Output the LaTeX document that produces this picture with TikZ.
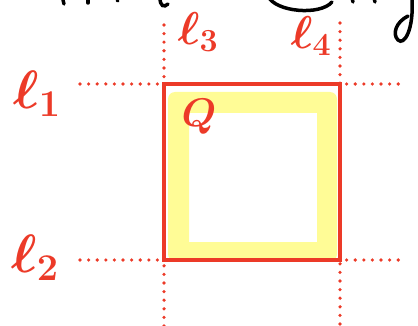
\RequirePackage{fix-cm}
\documentclass[tikz,border=0pt]{standalone}
\definecolor{penred}{RGB}{236,58,40}
\definecolor{hiyellow}{RGB}{255,252,150}
\begin{document}
\begin{tikzpicture}[x=1pt,y=-1pt,
  guide/.style={penred,line width=3.6pt,line cap=round,dash pattern=on 0pt off 8.6pt},
  lbl/.style={penred,inner sep=0pt,font=\fontsize{54}{58}\selectfont\boldmath},
  slbl/.style={penred,inner sep=0pt,font=\fontsize{46}{50}\selectfont\boldmath},
  qlbl/.style={penred,inner sep=0pt,font=\fontsize{40}{44}\selectfont\boldmath},
  ink/.style={black,line width=3.5pt,line cap=round}]
\useasboundingbox (0,0) rectangle (418,326);
% yellow highlighter band
\fill[hiyellow,even odd rule,rounded corners=7pt] (168,92) rectangle (337,261)
  [sharp corners] (189,113) rectangle (317,242);
% guide lines
\coordinate (l1a) at (80,84);  \coordinate (l1b) at (402,84);
\coordinate (l2a) at (80,260); \coordinate (l2b) at (402,260);
\coordinate (l3a) at (164,25); \coordinate (l3b) at (164,326);
\coordinate (l4a) at (340,23); \coordinate (l4b) at (340,326);
\draw[guide] (l1a) -- (l1b);
\draw[guide] (l2a) -- (l2b);
\draw[guide] (l3a) -- (l3b);
\draw[guide] (l4a) -- (l4b);
% square Q
\coordinate (sqa) at (164,84); \coordinate (sqb) at (340,260);
\draw[penred,line width=3.5pt] (sqa) rectangle (sqb);
% labels
\node[lbl] (L1) at (37,94) {$\ell_1$};
\node[lbl] (L2) at (35,258) {$\ell_2$};
\node[slbl] (L3) at (198,32) {$\ell_3$};
\node[slbl] (L4) at (311,36) {$\ell_4$};
\node[qlbl] (Q) at (199,117) {$Q$};
% cut-off black handwriting at the top
\draw[ink] (63,0) -- (64,4);
\draw[ink] (88,0) -- (88,3);
\draw[ink] (117,0) -- (118,1);
\draw[ink] (160,-2) .. controls (160,6) and (164,8) .. (168,4);
\draw[ink] (268,-4) .. controls (275,12) and (320,16) .. (332,2);
\draw[ink] (352,-2) -- (353,2);
\draw[ink] (374,-2) -- (375,2);
\draw[ink] (412,-2) .. controls (414,30) and (404,46) .. (398,40) .. controls (392,34) and (396,22) .. (408,16);
\end{tikzpicture}
\end{document}
